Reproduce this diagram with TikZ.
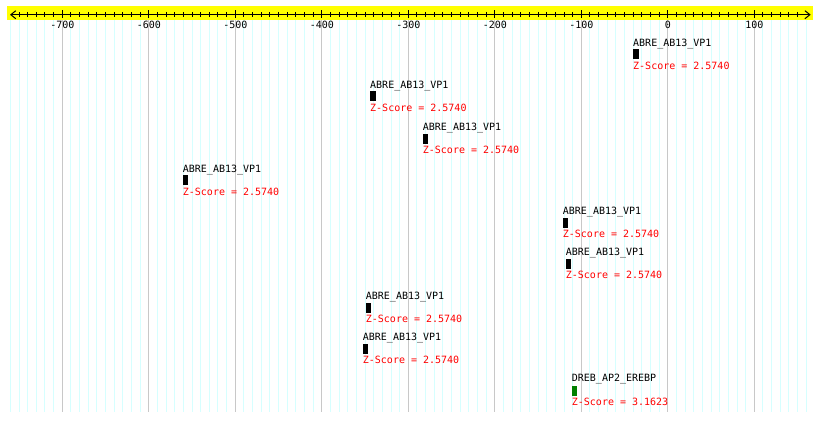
\documentclass[tikz,border=0pt]{standalone}
\usepackage{fontspec}
\usepackage{xcolor}
\usepackage{tikz}
\usetikzlibrary{arrows.meta}
\newfontfamily\monofont{DejaVu Sans Mono}
\newcommand{\sitefont}{\monofont\fontsize{10pt}{12pt}\selectfont}
\definecolor{AxisYellow}{HTML}{FFFF00}
\definecolor{GridCyan}{HTML}{D6FFFF}
\definecolor{GridGray}{HTML}{C8C8C8}
\definecolor{ScoreRed}{HTML}{FF0000}
\definecolor{SiteGreen}{HTML}{008000}

\begin{document}
\begin{tikzpicture}[x=1pt, y=-1pt,
        lbl/.style={font=\sitefont, anchor=base west, inner sep=0pt},
        zscore/.style={lbl, text=ScoreRed},
        tickno/.style={font=\sitefont, anchor=base, inner sep=0pt},
        sitebox/.style={fill=black, draw=none, minimum width=5.5pt, minimum height=10pt,
                        inner sep=0pt, anchor=north west}]

        \useasboundingbox (0,0) rectangle (820,421);

        % grid
        \foreach \v in {-760,-750,...,160}
          \draw[GridCyan, line width=1pt] ({667.8+0.865*\v},20) -- ({667.8+0.865*\v},412);
        \foreach \v in {-700,-600,...,100}
          \draw[GridGray, line width=1pt] ({667.8+0.865*\v},20) -- ({667.8+0.865*\v},412);

        % axis
        \fill[AxisYellow] (7,6) rectangle (813,20);
        \coordinate (axl) at (10,14.7);
        \coordinate (axr) at (810.7,14.7);
        \draw[line width=1pt, {Straight Barb[length=5pt,width=8pt]}-{Straight Barb[length=5pt,width=8pt]}] (axl) -- (axr);
        \foreach \v in {-750,-740,...,150}
          \draw[line width=1pt] ({667.8+0.865*\v},12) -- ({667.8+0.865*\v},17.3);
        \foreach \v in {-700,-600,...,100} {
          \draw[line width=1pt] ({667.8+0.865*\v},10) -- ({667.8+0.865*\v},18.3);
          \node[tickno] (t\v) at ({667.8+0.865*\v},28) {\v};
        }

        % sites
        \node[lbl]    (l1) at (633,46)   {ABRE\_AB13\_VP1};
        \node[sitebox] (b1) at (633,49)  {};
        \node[zscore] (z1) at (633,69)   {Z-Score = 2.5740};

        \node[lbl]    (l2) at (370,88)   {ABRE\_AB13\_VP1};
        \node[sitebox] (b2) at (370,91)  {};
        \node[zscore] (z2) at (370,111)  {Z-Score = 2.5740};

        \node[lbl]    (l3) at (422.7,130.3) {ABRE\_AB13\_VP1};
        \node[sitebox] (b3) at (422.7,133.3) {};
        \node[zscore] (z3) at (422.7,153.3) {Z-Score = 2.5740};

        \node[lbl]    (l4) at (182.7,172) {ABRE\_AB13\_VP1};
        \node[sitebox] (b4) at (182.7,175) {};
        \node[zscore] (z4) at (182.7,195) {Z-Score = 2.5740};

        \node[lbl]    (l5) at (562.7,214.3) {ABRE\_AB13\_VP1};
        \node[sitebox] (b5) at (562.7,217.3) {};
        \node[zscore] (z5) at (562.7,237.3) {Z-Score = 2.5740};

        \node[lbl]    (l6) at (565.7,255.3) {ABRE\_AB13\_VP1};
        \node[sitebox] (b6) at (565.7,258.3) {};
        \node[zscore] (z6) at (565.7,278.3) {Z-Score = 2.5740};

        \node[lbl]    (l7) at (365.7,299.3) {ABRE\_AB13\_VP1};
        \node[sitebox] (b7) at (365.7,302.3) {};
        \node[zscore] (z7) at (365.7,322.3) {Z-Score = 2.5740};

        \node[lbl]    (l8) at (362.7,340.3) {ABRE\_AB13\_VP1};
        \node[sitebox] (b8) at (362.7,343.3) {};
        \node[zscore] (z8) at (362.7,363.3) {Z-Score = 2.5740};

        \node[lbl]    (l9) at (571.7,381.7) {DREB\_AP2\_EREBP};
        \node[sitebox, fill=SiteGreen] (b9) at (571.7,385.7) {};
        \node[zscore] (z9) at (571.7,405) {Z-Score = 3.1623};
      \end{tikzpicture}
\end{document}
